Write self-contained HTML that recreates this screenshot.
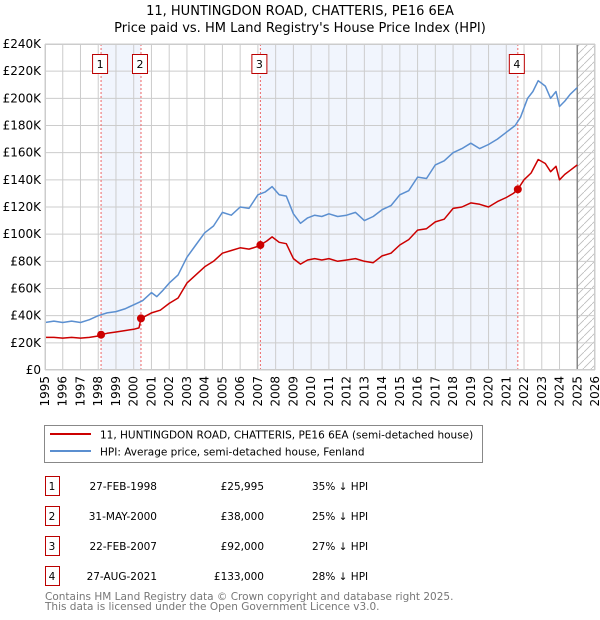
<!DOCTYPE html>
<html><head><meta charset="utf-8"><style>
body{margin:0;background:#fff;font-family:"DejaVu Sans","Liberation Sans",sans-serif;}
#wrap{position:relative;width:600px;height:620px;overflow:hidden}
</style></head><body>
<div id="wrap">
<svg id="chart" width="600" height="620" xmlns="http://www.w3.org/2000/svg" font-family="DejaVu Sans, Liberation Sans, sans-serif">
<text x="300" y="15" text-anchor="middle" font-size="13" fill="#000">11, HUNTINGDON ROAD, CHATTERIS, PE16 6EA</text>
<text x="300" y="32" text-anchor="middle" font-size="13" fill="#000">Price paid vs. HM Land Registry's House Price Index (HPI)</text>
<g id="plot"></g>
<g>
<rect x="44.5" y="425.5" width="438" height="37" fill="#fff" stroke="#888"/>
<line x1="50" y1="434" x2="91" y2="434" stroke="#cc0000" stroke-width="2"/>
<text x="100" y="438.5" font-size="10.5">11, HUNTINGDON ROAD, CHATTERIS, PE16 6EA (semi-detached house)</text>
<line x1="50" y1="451" x2="91" y2="451" stroke="#5b8fd0" stroke-width="2"/>
<text x="100" y="455.5" font-size="10.5">HPI: Average price, semi-detached house, Fenland</text>
</g>
<g id="table" font-size="10.5"></g>
<text x="45" y="600" font-size="10.5" fill="#777">Contains HM Land Registry data © Crown copyright and database right 2025.</text>
<text x="45" y="610" font-size="10.5" fill="#777">This data is licensed under the Open Government Licence v3.0.</text>
</svg>
</div>
<script>
const hpiYears=[1995,1995.5,1996,1996.5,1997,1997.5,1998,1998.5,1999,1999.5,2000,2000.5,2001,2001.3,2001.6,2002,2002.5,2003,2003.5,2004,2004.5,2005,2005.5,2006,2006.5,2007,2007.4,2007.8,2008.2,2008.6,2009,2009.4,2009.8,2010.2,2010.6,2011,2011.5,2012,2012.5,2013,2013.5,2014,2014.5,2015,2015.5,2016,2016.5,2017,2017.5,2018,2018.5,2019,2019.5,2020,2020.5,2021,2021.5,2021.8,2022.2,2022.5,2022.8,2023.2,2023.5,2023.8,2024,2024.3,2024.6,2025];
const hpiValues=[35,36,35,36,35,37,40,42,43,45,48,51,57,54,58,64,70,83,92,101,106,116,114,120,119,129,131,135,129,128,115,108,112,114,113,115,113,114,116,110,113,118,121,129,132,142,141,151,154,160,163,167,163,166,170,175,180,186,200,205,213,209,200,205,194,198,203,208];
const ppYears=[1995,1995.5,1996,1996.5,1997,1997.5,1998,1998.16,1998.5,1999,1999.5,2000,2000.3,2000.41,2001,2001.5,2002,2002.5,2003,2003.5,2004,2004.5,2005,2005.5,2006,2006.5,2007,2007.14,2007.5,2007.8,2008.2,2008.6,2009,2009.4,2009.8,2010.2,2010.6,2011,2011.5,2012,2012.5,2013,2013.5,2014,2014.5,2015,2015.5,2016,2016.5,2017,2017.5,2018,2018.5,2019,2019.5,2020,2020.5,2021,2021.4,2021.65,2022,2022.4,2022.8,2023.2,2023.5,2023.8,2024,2024.3,2024.6,2025];
const ppValues=[24,24,23.5,24,23.5,24,25,26,27,28,29,30,31,38,42,44,49,53,64,70,76,80,86,88,90,89,91,92,95,98,94,93,82,78,81,82,81,82,80,81,82,80,79,84,86,92,96,103,104,109,111,119,120,123,122,120,124,127,130,133,140,145,155,152,146,150,140,144,147,151];
const saleYears=[1998.16,2000.41,2007.14,2021.65];
const saleValues=[25.995,38,92,133];
const saleLabels=["1","2","3","4"];
const saleDates=["27-FEB-1998","31-MAY-2000","22-FEB-2007","27-AUG-2021"];
const salePrices=["£25,995","£38,000","£92,000","£133,000"];
const saleDiffs=["35% ↓ HPI","25% ↓ HPI","27% ↓ HPI","28% ↓ HPI"];
const yTicks=[0,20,40,60,80,100,120,140,160,180,200,220,240];
const yTickLabels=["£0","£20K","£40K","£60K","£80K","£100K","£120K","£140K","£160K","£180K","£200K","£220K","£240K"];
const xTicks=[1995,1996,1997,1998,1999,2000,2001,2002,2003,2004,2005,2006,2007,2008,2009,2010,2011,2012,2013,2014,2015,2016,2017,2018,2019,2020,2021,2022,2023,2024,2025,2026];

const L=45,R=595,T=44,B=370,x0=1995,x1=2026,yMax=240,dataEnd=2025.0;
const X=v=>L+(v-x0)/(x1-x0)*(R-L);
const Y=v=>B-v/yMax*(B-T);
const NS="http://www.w3.org/2000/svg";
const plot=document.getElementById('plot');
function mk(tag,attrs,parent){const e=document.createElementNS(NS,tag);for(const k in attrs)e.setAttribute(k,attrs[k]);(parent||plot).appendChild(e);return e;}

const bands=[[saleYears[0],saleYears[1]],[saleYears[2],saleYears[3]]];
bands.forEach((b,i)=>{
 const r=mk('rect',{x:X(b[0]),y:T,width:X(b[1])-X(b[0]),height:B-T,fill:'#f1f5fd'});
 
 
});
const defs=mk('defs',{});
const pat=mk('pattern',{id:'hatch',patternUnits:'userSpaceOnUse',width:8,height:8},defs);
mk('path',{d:'M0,8 L8,0',stroke:'#bbb','stroke-width':0.8},pat);
const hr=mk('rect',{x:X(dataEnd),y:T,width:R-X(dataEnd),height:B-T,fill:'url(#hatch)'});


yTicks.forEach((t,i)=>{
 const g=mk('line',{x1:L,x2:R,y1:Y(t),y2:Y(t),stroke:'#ccc','stroke-width':1});
 
 
 const tx=mk('text',{x:L-4,y:Y(t)+4,'text-anchor':'end','font-size':12,fill:'#000'});
 tx.textContent=yTickLabels[i];
 
 
});
xTicks.forEach(t=>{
 const g=mk('line',{x1:X(t),x2:X(t),y1:T,y2:B,stroke:'#ccc','stroke-width':1});
 
 
 const tx=mk('text',{x:0,y:0,'text-anchor':'end','font-size':12,fill:'#000',transform:`translate(${X(t)+4},${B+6}) rotate(-90)`});
 tx.textContent=t;
 
 
});
const dl=mk('line',{x1:X(dataEnd),x2:X(dataEnd),y1:T,y2:B,stroke:'#888','stroke-width':1.5});


saleYears.forEach((s,i)=>{
 const l=mk('line',{x1:X(s),x2:X(s),y1:T,y2:B,stroke:'#e66','stroke-width':1,'stroke-dasharray':'2,2'});
 
 
});
function line(xs,ys,color,name){
 const d=xs.map((v,i)=>(i?'L':'M')+X(v).toFixed(1)+','+Y(ys[i]).toFixed(1)).join(' ');
 const p=mk('path',{d,fill:'none',stroke:color,'stroke-width':1.5,'stroke-linejoin':'round'});
 
 
}
line(hpiYears,hpiValues,'#5b8fd0','hpi-line');
line(ppYears,ppValues,'#cc0000','price-paid-line');
saleYears.forEach((s,i)=>{
 const c=mk('circle',{cx:X(s),cy:Y(saleValues[i]),r:4,fill:'#cc0000'});
 
 
 const bx=X(s)-8;
 const r=mk('rect',{x:bx-0.5,y:54.5,width:15,height:19,fill:'#fff',stroke:'#b00','stroke-width':1});
 
 
 const t=mk('text',{x:bx+7,y:68,'text-anchor':'middle','font-size':11});
 t.textContent=saleLabels[i];
 
 
});
const ax=mk('rect',{x:L+0.5,y:T+0.5,width:R-L-1,height:B-T-1,fill:'none',stroke:'#ccc'});


const tb=document.getElementById('table');
saleLabels.forEach((s,i)=>{
 const y=476+i*30;
 const r=mk('rect',{x:45.5,y:y+0.5,width:14,height:19,fill:'#fff',stroke:'#b00'},tb);
 
 
 const cells=[[52,'middle',s],[157,'end',saleDates[i]],[264,'end',salePrices[i]],[312,'start',saleDiffs[i]]];
 cells.forEach((c,j)=>{
  const t=mk('text',{x:c[0],y:y+14,'text-anchor':c[1],'font-size':10.5},tb);
  t.textContent=c[2];
  
  
 });
});
</script>
</body></html>
